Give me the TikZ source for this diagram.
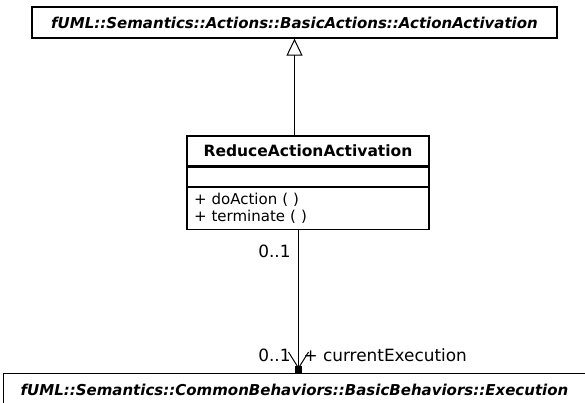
\documentclass[tikz,border=0pt]{standalone}
\usepackage{fontspec}
\setmainfont{DejaVu Sans}
\usetikzlibrary{arrows.meta,positioning}

\tikzset{
  umlbox/.style={draw,line width=1.3pt,inner sep=0pt},
  qualname/.style={font=\fontsize{15}{17}\selectfont\bfseries\itshape},
  multlabel/.style={font=\fontsize{16.9}{19}\selectfont,inner sep=0pt},
}

\begin{document}
\begin{tikzpicture}[x=1pt,y=-1pt,line width=1pt]
        \useasboundingbox (0,0) rectangle (585,402);
        \node[umlbox,qualname,minimum width=525,minimum height=31] (actact) at (294.5,22.5) {fUML::Semantics::Actions::BasicActions::ActionActivation};
        \node[umlbox,minimum width=242,minimum height=30,font=\fontsize{15.5}{17}\selectfont\bfseries] (reduce) at (308,151) {ReduceActionActivation};
        \node[umlbox,minimum width=242,minimum height=19,below=0pt of reduce] (attrs) {};
        \node[umlbox,minimum width=242,minimum height=42,below=0pt of attrs,text width=228,align=left,inner xsep=7pt,font=\fontsize{15}{17}\selectfont] (ops) {+ doAction ( )\\+ terminate ( )};
        \node[umlbox,qualname,minimum height=32,text width=560,align=left,inner xsep=17pt,anchor=north west] (exec) at (3,373) {fUML::Semantics::CommonBehaviors::BasicBehaviors::Execution};
        \coordinate (assoc) at (298.5,0);
        \node[fill,minimum size=7pt,inner sep=0pt,anchor=south] (navend) at (exec.north -| assoc) {};
        \draw[-{Triangle[open,length=17pt,width=16pt]}] (reduce.north -| actact.south) -- (actact.south);
        \draw[-{Straight Barb[length=16pt,width=20pt]}] (ops.south -| assoc) -- (navend.center);
        \node[multlabel,anchor=east] (srcmult) at (291,251) {0..1};
        \node[multlabel,anchor=east] (dstmult) at (291,355) {0..1};
        \node[multlabel,anchor=west] (rolename) at (303,355) {+ currentExecution};
    \end{tikzpicture}
\end{document}
